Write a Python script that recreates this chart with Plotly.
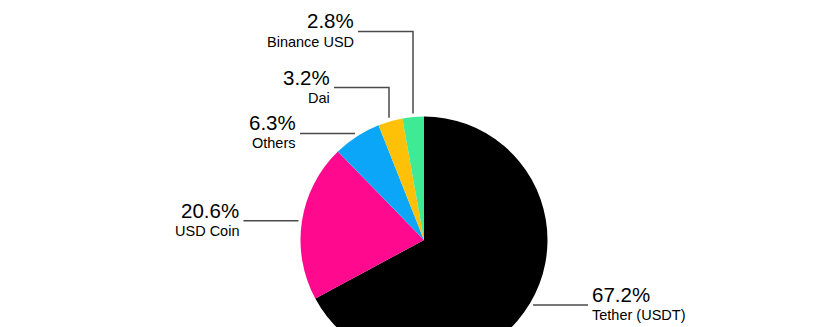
import math
import plotly.graph_objects as go

# ---- data ----
labels = ["Tether (USDT)", "USD Coin", "Others", "Dai", "Binance USD"]
values = [67.2, 20.6, 6.3, 3.2, 2.8]
colors = ["#000000", "#FF0A8F", "#0BA6F8", "#FFC107", "#3FEA94"]

# ---- layout constants (pixels) ----
W, H = 834, 400          # page shows top 327 px; pie is cut at bottom
CX, CY, R = 424, 240, 123.5
GAP = 3.5                # gap between leader line end and pie edge
LEN = 55                 # horizontal leader length
# per slice: side and optional elbow y (px from top)
label_side = ["right", "left", "left", "left", "left"]
elbow_y = [None, None, None, 87.5, 31.5]

LINE_COLOR = "#4a4a4a"
FONT = "Liberation Sans, Arial, sans-serif"


def px(x):
    return x / W


def py(y):
    return 1 - y / H


fig = go.Figure(go.Pie(
    labels=labels, values=values, sort=False, direction="clockwise",
    rotation=0, textinfo="none", hoverinfo="label+value",
    marker=dict(colors=colors, line=dict(width=0)),
    showlegend=False,
    domain=dict(x=[px(CX - R), px(CX + R)], y=[py(CY + R), py(CY - R)]),
))

shapes, annotations = [], []
total = sum(values)
cum = 0.0
for lab, v, side, ey in zip(labels, values, label_side, elbow_y):
    theta = 2 * math.pi * (cum + v / 2) / total
    cum += v
    ax = CX + (R + GAP) * math.sin(theta)
    ay = CY - (R + GAP) * math.cos(theta)
    if ey is None:
        ly = ay
        if side == "left":
            x0, x1 = ax - LEN, ax
        else:
            x0, x1 = ax, ax + LEN
        shapes.append(dict(type="line", xref="paper", yref="paper",
                           x0=px(x0), y0=py(ly), x1=px(x1), y1=py(ly),
                           line=dict(color=LINE_COLOR, width=1.5)))
        tx = x0 - 2 if side == "left" else x1 + 2
    else:
        ly = ey
        xe = round(ax)
        x0 = xe - LEN
        shapes.append(dict(type="path", xref="paper", yref="paper",
                           path=f"M {px(x0)} {py(ly)} L {px(xe)} {py(ly)} L {px(xe)} {py(ay)}",
                           line=dict(color=LINE_COLOR, width=1.5)))
        tx = x0 - 2
    anchor = "right" if side == "left" else "left"
    pct = f"{v:.1f}%"
    annotations.append(dict(xref="paper", yref="paper", x=px(tx), y=py(ly),
                            text=pct, showarrow=False, xanchor=anchor,
                            yanchor="bottom", align=anchor, yshift=-3,
                            font=dict(family=FONT, size=20.5, color="#000")))
    annotations.append(dict(xref="paper", yref="paper", x=px(tx), y=py(ly),
                            text=lab, showarrow=False, xanchor=anchor,
                            yanchor="top", align=anchor, yshift=0,
                            font=dict(family=FONT, size=14.5, color="#000")))

fig.update_layout(
    width=W, height=H, autosize=False,
    margin=dict(l=0, r=0, t=0, b=0),
    paper_bgcolor="#ffffff", plot_bgcolor="#ffffff",
    shapes=shapes, annotations=annotations,
)

fig.write_html("out.html", post_script=(
    "document.documentElement.style.overflow='hidden';"
    "document.body.style.overflow='hidden';"
    "document.body.style.margin='0';"
))
